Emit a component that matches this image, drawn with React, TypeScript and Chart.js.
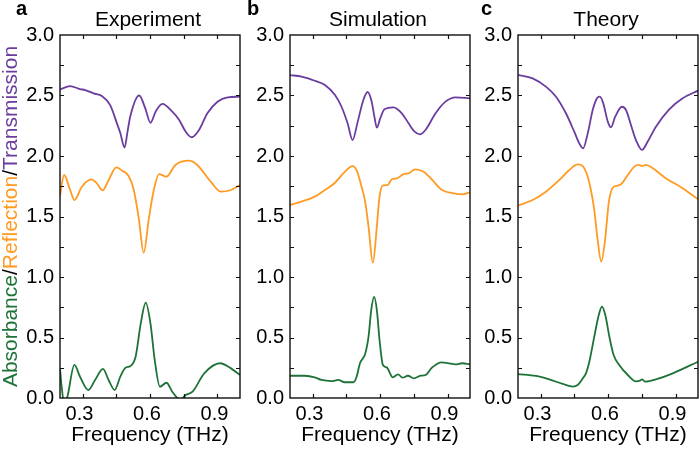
import React, { useEffect, useRef } from "react";
import { Chart, registerables } from "chart.js";

Chart.register(...registerables);

const FONT = "'Liberation Sans', Arial, Helvetica, sans-serif";
const PURPLE = "#6a3d9f";
const ORANGE = "#ff9a22";
const GREEN = "#1e7338";

// ---------- Axis ticks ----------
const X_TICKS = [0.3, 0.6, 0.9];
const X_TICK_MARKS = [0.3, 0.45, 0.6, 0.75, 0.9];
const Y_TICK_MARKS = [0.25, 0.5, 0.75, 1.0, 1.25, 1.5, 1.75, 2.0, 2.25, 2.5, 2.75];

// ---------- (a) Experiment ----------
const expTransF = [0.2, 0.245, 0.289, 0.312, 0.349, 0.386, 0.423, 0.453, 0.468, 0.487, 0.5, 0.512, 0.552, 0.579, 0.602, 0.625, 0.655, 0.699, 0.729, 0.759, 0.785, 0.818, 0.855, 0.9, 0.945, 1.0];
const expTrans = [2.55, 2.578, 2.553, 2.545, 2.518, 2.496, 2.42, 2.27, 2.19, 2.07, 2.2, 2.325, 2.5, 2.394, 2.275, 2.366, 2.43, 2.366, 2.3, 2.2, 2.155, 2.215, 2.353, 2.449, 2.485, 2.49];
const expReflF = [0.2, 0.218, 0.245, 0.264, 0.297, 0.339, 0.364, 0.389, 0.416, 0.45, 0.476, 0.505, 0.528, 0.55, 0.572, 0.595, 0.617, 0.64, 0.673, 0.713, 0.773, 0.81, 0.87, 0.915, 0.96, 1.0];
const expRefl = [1.67, 1.843, 1.719, 1.636, 1.746, 1.807, 1.774, 1.716, 1.8, 1.906, 1.879, 1.835, 1.719, 1.485, 1.2, 1.485, 1.719, 1.851, 1.829, 1.926, 1.961, 1.926, 1.788, 1.705, 1.719, 1.76];
const expAbsF = [0.2, 0.207, 0.22, 0.233, 0.264, 0.289, 0.326, 0.356, 0.391, 0.416, 0.443, 0.468, 0.491, 0.513, 0.536, 0.559, 0.581, 0.602, 0.621, 0.644, 0.673, 0.699, 0.735, 0.759, 0.789, 0.841, 0.912, 0.96, 1.0];
const expAbs = [0.245, 0.1, -0.06, 0.01, 0.273, 0.176, 0.066, 0.149, 0.24, 0.149, 0.066, 0.176, 0.25, 0.264, 0.341, 0.617, 0.788, 0.617, 0.314, 0.093, 0.126, 0.052, -0.015, 0.025, 0.052, 0.204, 0.287, 0.245, 0.19];

// ---------- (b) Simulation ----------
const simTransF = [0.2, 0.251, 0.31, 0.355, 0.4, 0.429, 0.456, 0.478, 0.501, 0.526, 0.545, 0.563, 0.575, 0.586, 0.601, 0.62, 0.66, 0.697, 0.727, 0.754, 0.777, 0.802, 0.847, 0.891, 0.936, 1.0];
const simTrans = [2.669, 2.656, 2.622, 2.587, 2.504, 2.407, 2.27, 2.132, 2.284, 2.463, 2.529, 2.449, 2.325, 2.234, 2.311, 2.386, 2.402, 2.353, 2.27, 2.201, 2.179, 2.215, 2.353, 2.449, 2.485, 2.477];
const simReflF = [0.2, 0.251, 0.31, 0.355, 0.4, 0.437, 0.478, 0.496, 0.516, 0.534, 0.549, 0.568, 0.586, 0.596, 0.611, 0.634, 0.653, 0.675, 0.705, 0.727, 0.757, 0.794, 0.832, 0.876, 0.928, 0.966, 1.0];
const simRefl = [1.595, 1.623, 1.664, 1.719, 1.779, 1.857, 1.917, 1.884, 1.76, 1.623, 1.416, 1.118, 1.416, 1.636, 1.755, 1.76, 1.81, 1.815, 1.851, 1.857, 1.89, 1.87, 1.802, 1.719, 1.691, 1.683, 1.7];
const simAbsF = [0.2, 0.266, 0.31, 0.34, 0.385, 0.414, 0.444, 0.482, 0.496, 0.511, 0.534, 0.549, 0.561, 0.574, 0.586, 0.598, 0.613, 0.63, 0.657, 0.68, 0.7, 0.724, 0.75, 0.78, 0.802, 0.832, 0.874, 0.906, 0.936, 0.966, 1.0];
const simAbs = [0.184, 0.184, 0.171, 0.149, 0.14, 0.149, 0.13, 0.13, 0.176, 0.287, 0.364, 0.507, 0.727, 0.835, 0.727, 0.479, 0.273, 0.253, 0.171, 0.196, 0.168, 0.184, 0.162, 0.184, 0.19, 0.253, 0.295, 0.287, 0.278, 0.287, 0.278];

// ---------- (c) Theory ----------
const thTransF = [0.2, 0.265, 0.324, 0.369, 0.413, 0.45, 0.472, 0.489, 0.51, 0.532, 0.551, 0.564, 0.579, 0.599, 0.613, 0.632, 0.662, 0.68, 0.702, 0.724, 0.751, 0.776, 0.813, 0.872, 0.932, 1.0];
const thTrans = [2.67, 2.642, 2.573, 2.49, 2.353, 2.201, 2.105, 2.063, 2.187, 2.38, 2.477, 2.49, 2.435, 2.284, 2.237, 2.325, 2.407, 2.38, 2.256, 2.132, 2.05, 2.118, 2.242, 2.386, 2.477, 2.54];
const thReflF = [0.2, 0.265, 0.324, 0.384, 0.428, 0.465, 0.488, 0.505, 0.524, 0.539, 0.554, 0.57, 0.587, 0.603, 0.621, 0.643, 0.662, 0.688, 0.717, 0.739, 0.751, 0.769, 0.799, 0.858, 0.932, 1.0];
const thRefl = [1.59, 1.636, 1.705, 1.802, 1.884, 1.931, 1.917, 1.857, 1.719, 1.554, 1.306, 1.127, 1.306, 1.609, 1.738, 1.755, 1.774, 1.843, 1.912, 1.926, 1.917, 1.926, 1.898, 1.815, 1.733, 1.642];
const thAbsF = [0.2, 0.28, 0.339, 0.399, 0.443, 0.465, 0.488, 0.502, 0.517, 0.539, 0.559, 0.573, 0.588, 0.606, 0.625, 0.65, 0.688, 0.724, 0.742, 0.751, 0.766, 0.813, 0.888, 1.0];
const thAbs = [0.198, 0.182, 0.154, 0.116, 0.094, 0.107, 0.163, 0.204, 0.3, 0.507, 0.686, 0.755, 0.686, 0.507, 0.355, 0.273, 0.19, 0.138, 0.143, 0.154, 0.135, 0.154, 0.204, 0.3];

const TITLES = ["Experiment", "Simulation", "Theory"];
const LETTERS = ["a", "b", "c"];
const Y_TITLE_PARTS = [
  { text: "Absorbance", color: GREEN },
  { text: "/", color: "#000" },
  { text: "Reflection", color: ORANGE },
  { text: "/", color: "#000" },
  { text: "Transmission", color: PURPLE },
];

const PANEL_SERIES = [
  [[expTransF, expTrans], [expReflF, expRefl], [expAbsF, expAbs]],
  [[simTransF, simTrans], [simReflF, simRefl], [thAbsF, thAbs]].map((s, i) => (i === 2 ? [simAbsF, simAbs] : s)),
  [[thTransF, thTrans], [thReflF, thRefl], [thAbsF, thAbs]],
];

// layout (pixels)
const W = 700;
const H = 450;
const PLOT_LEFT = [60, 290, 518];
const PLOT_RIGHT = [240, 470, 698];
const LETTER_X = [16, 247, 481];
const Y_AXIS_W = 50;

const toPts = (f: number[], v: number[]) => f.map((x, i) => ({ x, y: v[i] }));

function Panel({ idx }: { idx: number }) {
  const ref = useRef<HTMLCanvasElement | null>(null);
  useEffect(() => {
    if (!ref.current) return;
    const colors = [PURPLE, ORANGE, GREEN];
    const series = PANEL_SERIES[idx];
    const decor = {
      id: "decor" + idx,
      afterDraw(chart: any) {
        const { ctx, chartArea: a, scales } = chart;
        const xs = scales.x;
        const ys = scales.y;
        ctx.save();
        ctx.strokeStyle = "#111";
        ctx.lineWidth = 1.4;
        ctx.strokeRect(a.left, a.top, a.right - a.left, a.bottom - a.top);
        ctx.beginPath();
        const L = 4;
        for (const v of Y_TICK_MARKS) {
          const py = Math.round(ys.getPixelForValue(v)) + 0.5;
          ctx.moveTo(a.left, py);
          ctx.lineTo(a.left + L, py);
          ctx.moveTo(a.right, py);
          ctx.lineTo(a.right - L, py);
        }
        for (const v of X_TICK_MARKS) {
          const px = Math.round(xs.getPixelForValue(v)) + 0.5;
          ctx.moveTo(px, a.bottom);
          ctx.lineTo(px, a.bottom - L);
          ctx.moveTo(px, a.top);
          ctx.lineTo(px, a.top + L);
        }
        ctx.lineWidth = 1.2;
        ctx.stroke();
        const cx = (a.left + a.right) / 2;
        ctx.fillStyle = "#000";
        ctx.textBaseline = "alphabetic";
        ctx.textAlign = "center";
        ctx.font = `21px ${FONT}`;
        ctx.fillText(TITLES[idx], cx - 2, 26);
        ctx.fillText("Frequency (THz)", cx, 441);
        ctx.textAlign = "left";
        ctx.font = `bold 20px ${FONT}`;
        ctx.fillText(LETTERS[idx], LETTER_X[idx], 15);
        if (idx === 0) {
          ctx.font = `21px ${FONT}`;
          const widths = Y_TITLE_PARTS.map((p) => ctx.measureText(p.text).width);
          const total = widths.reduce((s, w) => s + w, 0);
          const centerY = (a.top + a.bottom) / 2;
          ctx.translate(17, centerY + total / 2);
          ctx.rotate(-Math.PI / 2);
          let off = 0;
          Y_TITLE_PARTS.forEach((p, i) => {
            ctx.fillStyle = p.color;
            ctx.fillText(p.text, off, 0);
            off += widths[i];
          });
        }
        ctx.restore();
      },
    };
    const chart = new Chart(ref.current, {
      type: "line",
      data: {
        datasets: series.map(([f, v], i) => ({
          data: toPts(f, v),
          borderColor: colors[i],
          borderWidth: 1.8,
          pointRadius: 0,
          fill: false,
          cubicInterpolationMode: "monotone" as const,
        })),
      },
      options: {
        responsive: false,
        animation: false,
        devicePixelRatio: 1,
        layout: {
          padding: { left: PLOT_LEFT[idx] - Y_AXIS_W, right: W - PLOT_RIGHT[idx], top: 35, bottom: 0 },
        },
        plugins: { legend: { display: false }, tooltip: { enabled: false }, title: { display: false } },
        scales: {
          x: {
            type: "linear",
            min: 0.2,
            max: 1.0,
            afterFit: (s: any) => {
              s.height = 52;
            },
            afterBuildTicks: (s: any) => {
              s.ticks = X_TICKS.map((value) => ({ value }));
            },
            grid: { display: false, drawTicks: false },
            border: { display: false },
            ticks: {
              color: "#000",
              font: { size: 20, family: FONT },
              padding: 4,
              labelOffset: -3,
              maxRotation: 0,
              autoSkip: false,
              callback: (v: any) => Number(v).toFixed(1),
            },
          },
          y: {
            type: "linear",
            min: 0,
            max: 3,
            afterFit: (s: any) => {
              s.width = Y_AXIS_W;
            },
            grid: { display: false, drawTicks: false },
            border: { display: false },
            ticks: {
              stepSize: 0.5,
              color: "#000",
              font: { size: 20, family: FONT },
              padding: 6,
              callback: (v: any) => Number(v).toFixed(1),
            },
          },
        },
      },
      plugins: [decor],
    });
    return () => chart.destroy();
  }, [idx]);
  return (
    <canvas
      ref={ref}
      width={W}
      height={H}
      style={{ position: "absolute", left: 0, top: 0, width: W, height: H }}
    />
  );
}

export default function App() {
  return (
    <div style={{ position: "absolute", left: 0, top: 0, width: W, height: H, background: "#fff" }}>
      <Panel idx={0} />
      <Panel idx={1} />
      <Panel idx={2} />
    </div>
  );
}
